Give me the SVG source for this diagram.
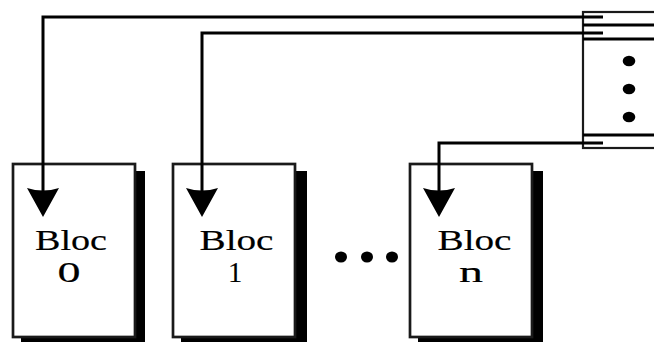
<svg xmlns="http://www.w3.org/2000/svg" width="654" height="342" viewBox="0 0 654 342">
<style>
.shadow{fill:#000}
.block{fill:#fff;stroke:#1a1a1a;stroke-width:2.7}
.wire{fill:none;stroke:#000;stroke-width:3}
.head{fill:#000}
.lbl{font-family:"Liberation Serif",serif;font-size:28.5px;fill:#000;stroke:#000;stroke-width:0.15;text-anchor:middle}
.dot{fill:#000}
.tbl{fill:#fff;stroke:#1a1a1a;stroke-width:2.2}
</style>
<rect width="654" height="342" fill="#fff"/>
<g id="table">
<rect class="tbl" x="583" y="12" width="80" height="136"/>
<line class="wire" x1="583" y1="25" x2="654" y2="25"/>
<line class="wire" x1="583" y1="39" x2="654" y2="39"/>
<line class="wire" x1="583" y1="135" x2="654" y2="135"/>
<ellipse class="dot" cx="629" cy="61" rx="6.3" ry="5.2"/>
<ellipse class="dot" cx="629" cy="89" rx="6.3" ry="5.2"/>
<ellipse class="dot" cx="629" cy="117" rx="6.3" ry="5.2"/>
</g>
<g id="bloc0">
<rect class="shadow" x="21" y="171" width="124" height="171"/>
<rect class="block" x="13" y="164" width="122" height="173"/>
<text class="lbl" x="71" y="249.5" textLength="72" lengthAdjust="spacingAndGlyphs">Bloc</text>
<text class="lbl" x="69" y="281.5" textLength="23" lengthAdjust="spacingAndGlyphs">0</text>
</g>
<g id="bloc1">
<rect class="shadow" x="181" y="171" width="126" height="171"/>
<rect class="block" x="173" y="164" width="122" height="173"/>
<text class="lbl" x="236.5" y="249.5" textLength="74" lengthAdjust="spacingAndGlyphs">Bloc</text>
<text class="lbl" x="235" y="281.5">1</text>
</g>
<g id="ellipsis">
<ellipse class="dot" cx="341" cy="257" rx="6" ry="5.5"/>
<ellipse class="dot" cx="367" cy="257" rx="6" ry="5.5"/>
<ellipse class="dot" cx="392" cy="257" rx="6" ry="5.5"/>
</g>
<g id="blocn">
<rect class="shadow" x="418" y="171" width="125" height="171"/>
<rect class="block" x="410" y="164" width="122" height="173"/>
<text class="lbl" x="474.5" y="249.5" textLength="74" lengthAdjust="spacingAndGlyphs">Bloc</text>
<text class="lbl" x="471" y="281.5" textLength="24" lengthAdjust="spacingAndGlyphs">n</text>
</g>
<g id="connectors">
<polyline class="wire" points="603,17 43,17 43,192"/>
<polyline class="wire" points="603,33 202,33 202,192"/>
<polyline class="wire" points="603,143 439,143 439,192"/>
<path class="head" d="M27,188 Q43,193 59,188 L43,217 Z"/>
<path class="head" d="M186,188 Q202,193 218,188 L202,217 Z"/>
<path class="head" d="M423,188 Q439,193 455,188 L439,217 Z"/>
</g>
</svg>
